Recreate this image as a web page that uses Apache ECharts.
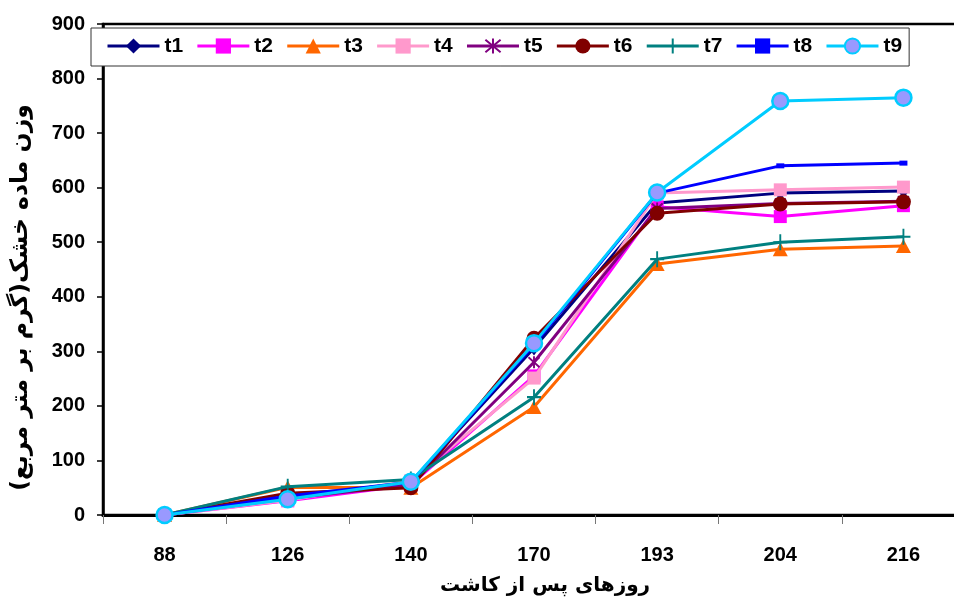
<!DOCTYPE html>
<html>
<head>
<meta charset="utf-8">
<script src="https://cdn.jsdelivr.net/npm/echarts@6/dist/echarts.min.js"></script>
<style>
html,body{margin:0;padding:0;background:#fff;}
#c{width:954px;height:605px;}
</style>
</head>
<body>
<div id="c"></div>
<script>
const categories = ['88', '126', '140', '170', '193', '204', '216'];
const seriesNames = ['t1', 't2', 't3', 't4', 't5', 't6', 't7', 't8', 't9'];
const t1 = [0, 32, 60, 306, 572, 590, 594];
const t2 = [0, 26, 55, 255, 565, 547, 567];
const t3 = [0, 51, 50, 198, 460, 487, 493];
const t4 = [0, 27, 63, 251, 590, 596, 601];
const t5 = [0, 30, 55, 280, 562, 571, 575];
const t6 = [0, 40, 50, 324, 553, 570, 574];
const t7 = [0, 52, 65, 216, 469, 500, 510];
const t8 = [0, 35, 60, 312, 590, 640, 645];
const t9 = [0, 29, 61, 315, 591, 759, 765];
const seriesData = [t1, t2, t3, t4, t5, t6, t7, t8, t9];
const yTicks = {min: 0, max: 900, interval: 100};

const colors = ['#000080', '#FF00FF', '#FF6600', '#FF99CC', '#800080', '#800000', '#008080', '#0000FF', '#00CCFF'];
const symbols = [
  {symbol: 'diamond', size: [11, 15]},
  {symbol: 'rect', size: [13, 13]},
  {symbol: 'triangle', size: [15, 14]},
  {symbol: 'rect', size: [13, 13]},
  {symbol: 'path://M0,0L10,10M10,0L0,10M5,-1L5,11', size: [11, 12], stroke: true},
  {symbol: 'circle', size: [15, 15]},
  {symbol: 'path://M5,0L5,10M0,5L10,5', size: [14, 16], stroke: true},
  {symbol: 'rect', size: [8, 5]},
  {symbol: 'circle', size: [16, 16]}
];

const series = seriesNames.map((n, i) => {
  const s = symbols[i];
  const item = {color: colors[i]};
  if (s.stroke) { item.borderColor = colors[i]; item.borderWidth = 2; }
  if (i === 8) { item.color = '#9999FF'; item.borderColor = colors[i]; item.borderWidth = 2.5; }
  return {
    name: n,
    type: 'line',
    data: seriesData[i],
    symbol: s.symbol,
    symbolSize: s.size,
    showAllSymbol: true,
    lineStyle: {color: colors[i], width: 3},
    itemStyle: item,
    z: 2 + i
  };
});

const chart = echarts.init(document.getElementById('c'), null, {renderer: 'canvas'});
chart.setOption({
  animation: false,
  backgroundColor: '#fff',
  color: colors,
  grid: {left: 103, width: 862, top: 24, height: 491, outerBoundsMode: 'none', containLabel: false, show: true, borderColor: '#000', borderWidth: 2.5, backgroundColor: 'transparent'},
  legend: {
    data: seriesNames,
    left: 91, top: 28,
    width: 860,
    itemWidth: 52, itemHeight: 19, itemGap: 12.7,
    padding: [7, 7, 9, 15],
    borderColor: '#333', borderWidth: 1,
    backgroundColor: '#fff',
    lineStyle: {width: 3},
    textStyle: {fontFamily: 'Liberation Sans', fontWeight: 'bold', fontSize: 21, lineHeight: 22, color: '#000'}
  },
  xAxis: {
    type: 'category',
    data: categories,
    boundaryGap: true,
    name: 'روزهای پس از کاشت',
    nameLocation: 'middle',
    nameGap: 61,
    nameTextStyle: {fontFamily: 'DejaVu Sans', fontWeight: 'bold', fontSize: 20, color: '#000', padding: [0, 0, 0, 22]},
    axisLine: {lineStyle: {color: '#000', width: 3}},
    axisTick: {show: true, length: 9, lineStyle: {color: '#777', width: 1}},
    axisLabel: {fontFamily: 'Liberation Sans', fontWeight: 'bold', fontSize: 20, color: '#000', margin: 30},
    splitLine: {show: false}
  },
  yAxis: {
    type: 'value',
    min: yTicks.min, max: yTicks.max, interval: yTicks.interval,
    name: 'وزن ماده خشک(گرم بر متر مربع)',
    nameLocation: 'middle',
    nameGap: 70,
    nameTextStyle: {fontFamily: 'DejaVu Sans', fontWeight: 'bold', fontSize: 23.5, color: '#000', padding: [0, 56, 0, 0]},
    axisLine: {show: true, lineStyle: {color: '#000', width: 2.5}},
    axisTick: {show: true, inside: false, length: 6, lineStyle: {color: '#000', width: 1.5}},
    axisLabel: {fontFamily: 'Liberation Sans', fontWeight: 'bold', fontSize: 20, color: '#000', margin: 18},
    splitLine: {show: false}
  },
  series: series
});
</script>
</body>
</html>
